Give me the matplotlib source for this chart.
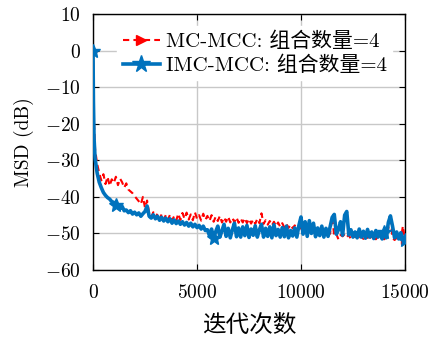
import matplotlib
matplotlib.use("Agg")
import matplotlib.pyplot as plt

plt.rcParams['font.family'] = ['cmr10', 'Noto Sans CJK SC', 'DejaVu Sans']
plt.rcParams['mathtext.fontset'] = 'cm'
plt.rcParams['axes.formatter.use_mathtext'] = True
plt.rcParams['axes.unicode_minus'] = True

iters = [0, 20, 50] + list(range(100, 15100, 100))

imc_mcc = [0, -14, -24,
    -29.5, -33.5, -36.0, -37.5, -38.8, -39.6, -40.2, -40.6, -41.3, -41.5,
    -42.3, -42.5, -43.2, -42.6, -43.8, -43.6, -44.3, -43.8, -44.7, -44.2,
    -44.9, -44.4, -45.3, -44.6, -44.0, -42.5, -45.3, -45.8, -44.9, -46.0,
    -45.3, -46.4, -45.6, -46.6, -45.8, -46.8, -46.0, -47.2, -46.3, -47.3,
    -46.6, -47.5, -46.8, -47.7, -47.0, -48.0, -47.2, -48.2, -47.5, -48.4,
    -47.8, -48.8, -48.0, -49.2,
    -49.0, -50.6, -48.8, -51.2, -49.5,
    -48.0, -51.0, -49.2, -47.5, -50.8, -48.6, -51.2, -49.0, -47.2, -50.9,
    -48.5, -51.0, -48.2, -50.6, -47.8, -51.1, -48.8, -50.5, -47.9, -51.0,
    -49.0, -47.5, -51.0, -48.6, -50.8, -48.2, -51.2, -47.6, -50.6, -48.9,
    -51.0, -48.4, -50.9, -48.0, -51.2, -49.2, -50.7, -48.5, -51.0, -47.8,
    -45.5, -50.2, -46.8, -50.8, -46.5, -50.0, -47.2, -50.9, -48.5, -50.6,
    -48.0, -51.0, -48.6, -50.8, -48.2, -45.6, -44.8, -50.2, -49.0, -46.8,
    -50.5, -45.0, -44.0, -50.4, -49.0, -51.0, -49.6, -51.2, -48.8, -51.0,
    -49.4, -51.3, -48.9, -51.0, -49.6, -51.4, -49.2, -51.0, -49.8, -51.5,
    -49.5, -51.2, -47.0, -45.2, -48.0, -51.2, -49.6, -51.5, -49.8, -51.4,
    -51.8]

mc_mcc = [0, -10, -20,
    -27.0, -31.0, -33.5, -35.5, -33.8, -36.5, -34.5, -37.0, -35.2, -36.2,
    -34.5, -36.8, -35.0, -36.0, -37.5, -36.3, -38.0, -38.5, -39.0, -39.8,
    -40.5, -41.2, -42.0, -40.0, -43.0, -41.0,
    -44.5, -45.5, -44.2, -45.8, -44.6, -46.0, -44.8, -46.2, -45.0, -46.3,
    -44.9, -46.4, -45.3, -46.5, -44.6, -46.3, -44.4, -46.0, -44.3, -46.2,
    -44.8, -46.4, -44.2, -46.0, -45.0, -46.5, -44.6, -46.3, -45.2, -46.6,
    -45.0, -46.8, -45.4, -46.6, -45.2, -47.0, -45.6, -46.8, -45.4, -47.0,
    -45.8, -46.9, -45.6, -47.1, -45.9, -47.0, -45.8, -47.2, -46.0, -47.3,
    -46.2, -47.4, -46.0, -47.2, -44.5, -47.4, -46.4, -47.6, -46.6, -47.8,
    -46.8, -48.0, -47.0, -48.2, -47.2, -48.4, -47.4, -48.5, -47.6, -48.6,
    -47.8, -48.8, -48.0,
    -48.8, -49.6, -48.5, -50.0, -49.0, -50.2, -49.2, -50.4, -49.5, -50.5,
    -49.6, -50.6, -49.8, -50.8, -50.0, -45.5, -50.8, -50.2, -51.6, -50.4,
    -50.8, -50.2, -51.0, -50.4, -51.6, -50.6, -51.0, -50.4, -51.2, -50.8,
    -51.5, -50.8, -51.2, -50.8, -51.4, -51.0, -51.6, -50.8, -51.4, -51.2,
    -51.6, -51.0, -48.5, -45.0, -51.2, -51.8, -51.2, -50.0, -51.4, -48.0,
    -51.8]

assert len(iters) == len(imc_mcc) == len(mc_mcc)

labels = ['MC-MCC: 组合数量=4', 'IMC-MCC: 组合数量=4']
xticks = [0, 5000, 10000, 15000]
yticks = [10, 0, -10, -20, -30, -40, -50, -60]

star_iters = [0, 1100, 5800, 14000, 15000]
tri_iters = [0, 15000]
star_idx = [iters.index(v) for v in star_iters]
tri_idx = [iters.index(v) for v in tri_iters]

fig = plt.figure(figsize=(4.33, 3.43), dpi=100)
ax = fig.add_axes([0.2148, 0.2128, 0.7205, 0.7464])

ax.plot(iters, mc_mcc, color='#FF0000', linestyle='--', linewidth=1.5,
        dashes=(3, 2), marker='>', markersize=6, markevery=tri_idx,
        label=labels[0], zorder=3)
ax.plot(iters, imc_mcc, color='#0072BD', linestyle='-', linewidth=2.6,
        marker='*', markersize=10, markevery=star_idx, label=labels[1], zorder=4)

ax.set_xlim(0, 15000)
ax.set_ylim(-60, 10)
ax.set_xticks(xticks)
ax.set_yticks(yticks)
ax.grid(True, color='#c8c8c8', linewidth=1.0)
ax.set_axisbelow(True)
ax.tick_params(direction='in', top=True, right=True, labelsize=14, length=4)
ax.tick_params(axis='x', pad=10)
ax.tick_params(axis='y', pad=9)
for s in ax.spines.values():
    s.set_linewidth(1.0)

ax.set_xlabel('迭代次数', fontsize=17, labelpad=9)
ax.set_ylabel('MSD (dB)', fontsize=14, labelpad=8)

leg = ax.legend(loc='upper right', fontsize=15, frameon=True, fancybox=False,
                edgecolor='white', facecolor='white', framealpha=1.0,
                handlelength=1.8, handletextpad=0.3, borderpad=0.25,
                labelspacing=0.2, borderaxespad=0.6, markerscale=1.3)

fig.savefig('out.png', dpi=100)
